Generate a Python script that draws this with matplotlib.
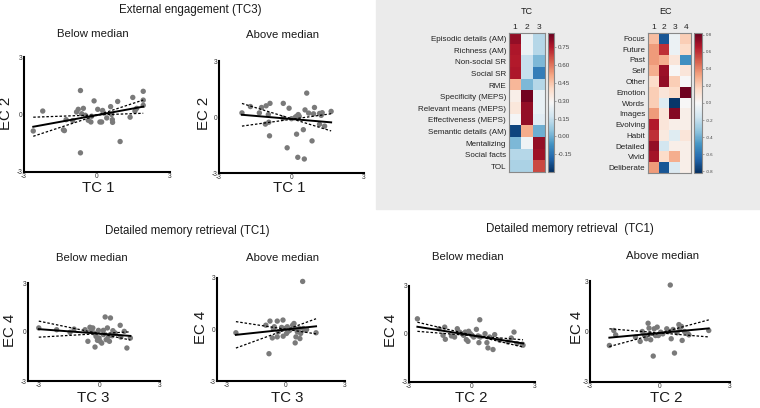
import matplotlib as mpl
mpl.use('Agg')
import matplotlib.pyplot as plt
from matplotlib.patches import Rectangle
import numpy as np

plt.rcParams['font.family'] = ['Liberation Sans', 'DejaVu Sans']

# scatter data
tc1_below = [-2.62, -2.23, -1.38, -1.34, -1.27, -1.0, -0.84, -0.77, -0.68, -0.68, -0.63, -0.56,
             -0.48, -0.36, -0.25, -0.22, -0.12, 0.03, 0.12, 0.19, 0.23, 0.26, 0.40, 0.56,
             0.60, 0.63, 0.64, 0.85, 0.95, 1.36, 1.47, 1.56, 1.63, 1.90, 1.90, 1.90]
ec2_below = [-0.86, 0.18, -0.80, -0.84, -0.27, -0.32, 0.13, 0.27, 1.25, -2.0, 0.04, 0.32,
             -0.04, -0.30, -0.39, -0.09, 0.71, 0.27, -0.39, -0.39, 0.21, 0.09, -0.18, 0.41,
             0.0, -0.27, -0.41, 0.68, -1.41, -0.14, 0.89, 0.18, 0.32, 1.21, 0.75, 0.48]

tc1_above = [-2.05, -1.70, -1.33, -1.24, -1.05, -0.89, -0.96, -1.08, -0.94, -0.91, -0.34, -0.35,
             -0.10, 0.0, 0.15, 0.21, 0.28, 0.21, -0.18, 0.26, 0.53, 0.49, 0.56, 0.63,
             0.71, 0.95, 0.91, 1.16, 1.23, 1.27, 0.85, 1.16, 1.37, 1.64, 0.32]
ec2_above = [0.22, 0.56, 0.22, 0.51, 0.60, 0.73, 0.13, -0.38, -0.28, -1.01, 0.73, -0.06,
             0.47, -0.09, -0.02, 0.04, 0.13, -0.92, -1.65, -2.16, -2.25, -0.68, 0.38, 1.28,
             0.21, 0.51, 0.17, 0.19, 0.09, 0.23, -1.28, -0.39, -0.49, 0.30, 0.04]

tc3_below = [-2.97, -2.09, -1.43, -1.23, -0.69, -0.55, -0.45, -0.40, -0.31, -0.25, -0.20, -0.15,
             -0.08, -0.03, 0.0, 0.05, 0.13, 0.21, 0.30, 0.35, 0.41, 0.51, 0.56, 0.64,
             0.68, 0.79, 1.04, 1.07, 1.24, 1.37, 1.54, 0.21, 0.46]
ec4_below_tc3 = [0.25, 0.14, -0.02, 0.18, 0.14, -0.57, 0.29, 0.08, 0.25, -0.06, -0.92, -0.27,
                 -0.51, 0.10, -0.37, -0.57, -0.68, -0.16, 0.92, -0.47, 0.25, -0.57, 0.86, -0.23,
                 0.08, -0.06, 0.41, -0.31, 0.04, -0.98, -0.37, 0.10, -0.27]

tc3_above = [-2.54, -1.02, -0.86, -0.81, -0.69, -0.64, -0.59, -0.44, -0.44, -0.39, -0.22, -0.15,
             -0.14, -0.10, 0.03, 0.07, 0.20, 0.34, 0.41, 0.47, 0.51, 0.58, 0.68, 0.71,
             0.85, 0.75, 0.88, 0.97, 1.05, 1.53, 0.46, 0.12]
ec4_above_tc3 = [-0.19, 0.25, -1.41, 0.49, -0.49, 0.06, 0.16, 0.49, -0.43, -0.14, 0.12, 0.55,
                 -0.39, 0.06, -0.23, 0.16, -0.04, 0.25, 0.35, -0.78, -0.43, -0.14, 0.06, -0.53,
                 2.80, -0.23, 0.06, -0.04, 0.0, -0.19, 0.06, -0.10]

tc2_below = [-2.60, -1.30, -1.38, -1.27, -0.98, -0.83, -0.70, -0.59, -0.48, -0.40, -0.32, -0.27,
             -0.19, -0.16, -0.08, 0.0, 0.08, 0.21, 0.29, 0.33, 0.37, 0.40, 0.62, 0.71,
             0.76, 0.84, 1.0, 1.08, 1.32, 1.71, 1.87, 2.0, 2.14, 2.40, 2.43, -1.57]
ec4_below_tc2 = [0.95, 0.43, -0.08, -0.33, -0.12, -0.19, 0.33, 0.12, 0.02, -0.08, 0.12, -0.35,
                 -0.46, 0.17, 0.02, -0.08, -0.19, 0.29, -0.12, -0.54, 0.89, -0.19, 0.02, -0.54,
                 -0.87, -0.19, -0.97, -0.04, -0.39, -0.50, -0.25, 0.12, -0.60, -0.64, -0.70, 0.33]

tc2_above = [-2.17, -1.98, -1.90, -1.05, -0.85, -0.76, -0.66, -0.59, -0.51, -0.47, -0.44, -0.40,
             -0.29, -0.25, -0.19, -0.12, -0.07, 0.03, 0.12, 0.29, 0.37, 0.44, 0.48, 0.56,
             0.62, 0.73, 0.81, 0.85, 0.92, 0.95, 1.05, 1.20, 1.24, 2.09]
ec4_above_tc2 = [-0.83, 0.06, -0.20, -0.34, -0.59, 0.0, -0.24, -0.43, 0.49, 0.20, -0.14, -0.49,
                 -1.46, 0.16, -0.24, 0.26, -0.24, -0.04, -0.14, 0.16, 0.0, 2.76, -0.43, 0.12,
                 -1.28, -0.08, 0.41, 0.16, 0.30, -0.53, 0.0, -0.14, -0.20, 0.06]

# loadings
tc_rows = ['Episodic details (AM)', 'Richness (AM)', 'Non-social SR', 'Social SR', 'RME',
           'Specificity (MEPS)', 'Relevant means (MEPS)', 'Effectiveness (MEPS)',
           'Semantic details (AM)', 'Mentalizing', 'Social facts', 'TOL']
tc_load = [[0.80, 0.25, 0.12],
           [0.76, 0.25, 0.12],
           [0.75, 0.15, 0.02],
           [0.76, 0.15, -0.12],
           [0.48, 0.02, 0.12],
           [0.32, 0.85, 0.24],
           [0.35, 0.80, 0.24],
           [0.28, 0.80, 0.22],
           [-0.25, 0.50, 0.00],
           [0.02, 0.26, 0.80],
           [0.12, 0.12, 0.78],
           [0.10, 0.10, 0.67]]

ec_rows = ['Focus', 'Future', 'Past', 'Self', 'Other', 'Emotion', 'Words', 'Images',
           'Evolving', 'Habit', 'Detailed', 'Vivid', 'Deliberate']
ec_load = [[0.25, -0.70, -0.05, 0.20],
           [0.35, 0.60, -0.05, 0.15],
           [0.35, 0.30, 0.10, -0.50],
           [0.30, 0.70, 0.00, 0.10],
           [0.15, 0.72, 0.20, 0.00],
           [0.20, 0.10, 0.15, 0.80],
           [0.20, -0.10, -0.80, 0.00],
           [0.35, 0.10, 0.75, 0.05],
           [0.65, 0.10, 0.05, 0.05],
           [0.60, 0.08, -0.10, 0.10],
           [0.72, -0.15, 0.05, 0.05],
           [0.68, 0.15, 0.30, 0.05],
           [0.35, -0.70, -0.12, 0.05]]

W, H = 760, 408


def box(x0, y0, x1, y1):
    return [x0 / W, 1 - y1 / H, (x1 - x0) / W, (y1 - y0) / H]


def txt(x, y, s, size, **kw):
    fig.text(x / W, 1 - y / H, s, fontsize=size, ha='center', va='center', color='#1a1a1a', **kw)


def scatter_panel(rect, x, y, xlim):
    ax = fig.add_axes(rect)
    x = np.array(x)
    y = np.array(y)
    ax.scatter(x, y, s=15, color='#7a7a7a', edgecolor='none', zorder=3)
    slope, icpt = np.polyfit(x, y, 1)
    xs = np.array([x.min(), x.max()])
    ax.plot(xs, slope * xs + icpt, color='black', lw=1.4, zorder=4)
    # slope confidence bounds, pivoting on the centroid
    res = y - (slope * x + icpt)
    se = np.sqrt(np.sum(res ** 2) / (len(x) - 2)) / np.sqrt(np.sum((x - x.mean()) ** 2))
    for b in (slope - 2.03 * se, slope + 2.03 * se):
        ax.plot(xs, y.mean() + b * (xs - x.mean()), color='black', lw=0.9,
                ls=(0, (2, 1.5)), zorder=4)
    ax.set_xlim(xlim)
    ax.set_ylim(-3, 3)
    ax.set_xticks([-3, 0, 3])
    ax.set_yticks([-3, 0, 3])
    ax.set_xticklabels(['-3', '0', '3'])
    ax.set_yticklabels(['-3', '0', '3'])
    ax.tick_params(length=0, pad=1, labelsize=4.8, labelcolor='#333333')
    for s in ['top', 'right']:
        ax.spines[s].set_visible(False)
    for s in ['left', 'bottom']:
        ax.spines[s].set_linewidth(1.5)
    ax.patch.set_alpha(0)
    return ax


fig = plt.figure(figsize=(7.6, 4.08), dpi=100)
fig.patches.append(Rectangle((376 / W, 1 - 209 / H), 384 / W, 209 / H,
                             transform=fig.transFigure, color='#ebebeb', zorder=-1))

scatter_panel(box(24, 57, 170, 172), tc1_below, ec2_below, (-3, 3))
scatter_panel(box(219, 61, 364, 173), tc1_above, ec2_above, (-3, 3))
scatter_panel(box(28, 283, 160, 381), tc3_below, ec4_below_tc3, (-3.5, 3))
scatter_panel(box(217, 278, 345, 381), tc3_above, ec4_above_tc3, (-3.5, 3))
scatter_panel(box(409, 286, 535, 382), tc2_below, ec4_below_tc2, (-3, 3))
scatter_panel(box(590, 281, 730, 382), tc2_above, ec4_above_tc2, (-3, 3))

txt(190, 10, 'External engagement (TC3)', 8.3)
txt(93, 34, 'Below median', 8.2)
txt(283, 35, 'Above median', 8.2)
txt(187, 231, 'Detailed memory retrieval (TC1)', 8.3)
txt(92, 258, 'Below median', 8.2)
txt(282, 258, 'Above median', 8.2)
txt(570, 229, 'Detailed memory retrieval  (TC1)', 8.3)
txt(468, 257, 'Below median', 8.2)
txt(663, 256, 'Above median', 8.2)

txt(6, 113, 'EC 2', 10.8, rotation=90)
txt(98, 188, 'TC 1', 10.8)
txt(204, 113, 'EC 2', 10.8, rotation=90)
txt(289, 188, 'TC 1', 10.8)
txt(10, 330, 'EC 4', 10.8, rotation=90)
txt(93, 398, 'TC 3', 10.8)
txt(201, 327, 'EC 4', 10.8, rotation=90)
txt(287, 398, 'TC 3', 10.8)
txt(391, 330, 'EC 4', 10.8, rotation=90)
txt(471, 398, 'TC 2', 10.8)
txt(577, 327, 'EC 4', 10.8, rotation=90)
txt(666, 398, 'TC 2', 10.8)


def heat_panel(rect, crect, data, rows, vmin, vmax, ticks, fmt, title, title_x, cb_fs):
    ax = fig.add_axes(rect)
    data = np.array(data)
    im = ax.imshow(data, cmap='RdBu_r', vmin=vmin, vmax=vmax, aspect='auto',
                   interpolation='nearest')
    ax.set_yticks(range(len(rows)))
    ax.set_yticklabels(rows)
    ax.set_xticks(range(data.shape[1]))
    ax.set_xticklabels([str(i + 1) for i in range(data.shape[1])])
    ax.xaxis.tick_top()
    ax.tick_params(length=0, pad=2, labelsize=5.8, labelcolor='#222222')
    ax.tick_params(axis='x', labelsize=6, pad=1.5)
    for s in ax.spines.values():
        s.set_color('#888888')
        s.set_linewidth(0.8)
    cax = fig.add_axes(crect)
    cb = fig.colorbar(im, cax=cax, ticks=ticks, format=fmt)
    cb.outline.set_edgecolor('#888888')
    cb.outline.set_linewidth(0.8)
    cax.tick_params(length=1.5, width=0.4, pad=1.5, labelsize=cb_fs, labelcolor='#444444',
                    color='#666666')
    txt(title_x, 12, title, 6.5)


heat_panel(box(509, 33, 545, 172), box(548, 33, 554, 172), tc_load, tc_rows, -0.3, 0.87,
           [0.75, 0.60, 0.45, 0.30, 0.15, 0.0, -0.15], '%.2f', 'TC', 527, 4.5)
heat_panel(box(648, 33, 691, 173), box(694, 33, 702, 173), ec_load, ec_rows, -0.82, 0.82,
           [0.8, 0.6, 0.4, 0.2, 0.0, -0.2, -0.4, -0.6, -0.8], '%.1f', 'EC', 665, 3.2)

plt.savefig('out.png', dpi=100)
